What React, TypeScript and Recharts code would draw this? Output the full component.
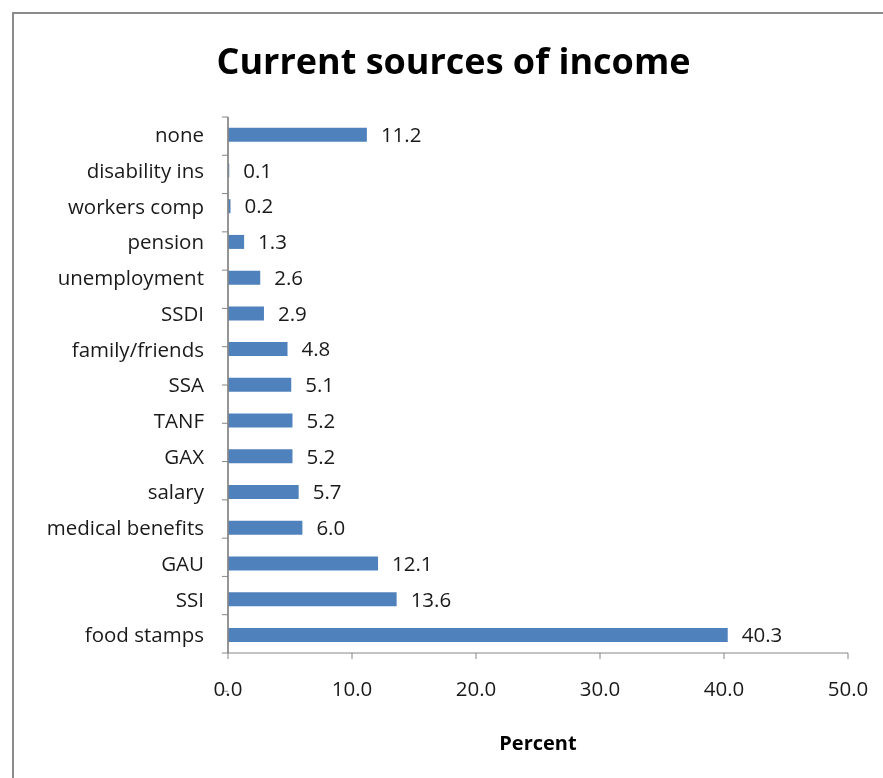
import React from 'react';
import { BarChart, Bar, XAxis, YAxis, LabelList, Label, ReferenceLine } from 'recharts';

const categories = [
  'none',
  'disability ins',
  'workers comp',
  'pension',
  'unemployment',
  'SSDI',
  'family/friends',
  'SSA',
  'TANF',
  'GAX',
  'salary',
  'medical benefits',
  'GAU',
  'SSI',
  'food stamps',
];
const percents = [11.2, 0.1, 0.2, 1.3, 2.6, 2.9, 4.8, 5.1, 5.2, 5.2, 5.7, 6.0, 12.1, 13.6, 40.3];
const xTicks = [0, 10, 20, 30, 40, 50];
const boundaryTicks = Array.from({ length: categories.length + 1 }, (_, i) => i);

const data = categories.map((name, i) => ({ name, value: percents[i] }));

const FONT = '"Open Sans", sans-serif';
const AXIS = '#868686';
const TEXT = '#1a1a1a';
const FS = 20.5;

export default function App() {
  return (
    <div style={{ position: 'relative', width: 867, height: 762, fontFamily: FONT }}>
      {/* frame: only top/left edges are visible in the picture */}
      <div
        style={{
          position: 'fixed',
          left: 12,
          top: 12,
          width: 2000,
          height: 2000,
          borderLeft: '2px solid #8c8c8c',
          borderTop: '2px solid #8c8c8c',
        }}
      />
      <div
        style={{
          position: 'absolute',
          left: 0,
          top: 28,
          width: 891,
          textAlign: 'center',
          fontSize: 36,
          fontWeight: 700,
          color: '#000',
        }}
      >
        Current sources of income
      </div>
      <BarChart
        width={867}
        height={762}
        data={data}
        layout="vertical"
        barCategoryGap="30%"
        margin={{ top: 109, right: 27, bottom: 17, left: 0 }}
        style={{ position: 'absolute', left: 0, top: 0 }}
      >
        <XAxis
          type="number"
          domain={[0, 50]}
          ticks={xTicks}
          tickFormatter={(v: number) => v.toFixed(1)}
          stroke={AXIS}
          tickSize={6}
          tickMargin={22}
          height={100}
          tick={{ fill: TEXT, fontSize: FS, fontFamily: FONT }}
        >
          <Label
            value="Percent"
            position="insideBottom"
            offset={3}
            style={{ fill: '#000', fontSize: 20, fontWeight: 700, fontFamily: FONT }}
          />
        </XAxis>
        {/* category boundaries: tick marks between bars, drawn by a plain number axis */}
        <YAxis
          yAxisId="a_bounds"
          type="number"
          domain={[0, categories.length]}
          allowDataOverflow
          ticks={boundaryTicks}
          orientation="left"
          width={1}
          stroke={AXIS}
          tickSize={6}
          tickFormatter={() => ''}
          interval={0}
        />
        <YAxis
          yAxisId="b_cat"
          type="category"
          dataKey="name"
          width={219}
          axisLine={false}
          tickLine={false}
          tickSize={0}
          tickMargin={23}
          interval={0}
          tick={{ fill: TEXT, fontSize: FS, fontFamily: FONT }}
        />
        <Bar yAxisId="b_cat" dataKey="value" fill="#4F81BD" isAnimationActive={false}>
          <LabelList
            dataKey="value"
            position="right"
            offset={14}
            formatter={(v: number) => v.toFixed(1)}
            style={{ fill: TEXT, fontSize: FS, fontFamily: FONT }}
          />
        </Bar>
        <ReferenceLine yAxisId="b_cat" x={0} stroke={AXIS} strokeWidth={1.5} ifOverflow="visible" />
      </BarChart>
    </div>
  );
}
